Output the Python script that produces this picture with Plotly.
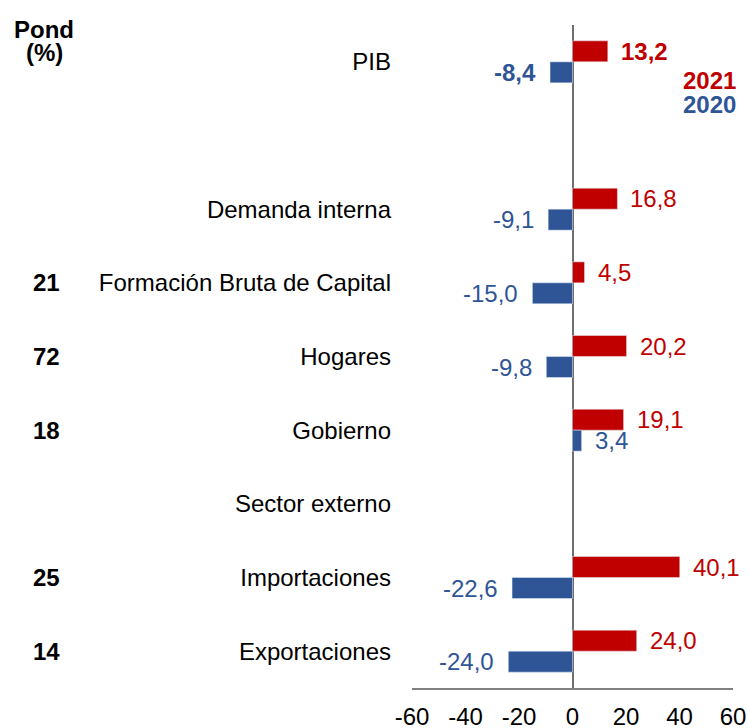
import plotly.graph_objects as go

categories = ["PIB", "", "Demanda interna", "Formación Bruta de Capital", "Hogares",
              "Gobierno", "Sector externo", "Importaciones", "Exportaciones"]
pond = [None, None, None, 21, 72, 18, None, 25, 14]
values_2021 = [13.2, None, 16.8, 4.5, 20.2, 19.1, None, 40.1, 24.0]
values_2020 = [-8.4, None, -9.1, -15.0, -9.8, 3.4, None, -22.6, -24.0]
bold_rows = [True, False, False, False, False, False, False, False, False]
x_ticks = [-60, -40, -20, 0, 20, 40, 60]

RED = "#C00000"
BLUE = "#2F5597"
FONT = "Arial, 'Liberation Sans', sans-serif"
FS = 24

ypos = list(range(len(categories)))

fig = go.Figure()
fig.add_trace(go.Bar(y=ypos, x=values_2021, orientation="h", name="2021",
                     marker=dict(color=RED), hoverinfo="skip"))
fig.add_trace(go.Bar(y=ypos, x=values_2020, orientation="h", name="2020",
                     marker=dict(color=BLUE), hoverinfo="skip"))

BAR_GAP = 0.43
half = (1 - BAR_GAP) / 4.0

def fmt(v):
    return f"{v:.1f}".replace(".", ",")

annotations = []
for i, (v21, v20) in enumerate(zip(values_2021, values_2020)):
    for v, col, off in ((v21, RED, -half), (v20, BLUE, half)):
        if v is None:
            continue
        txt = fmt(v)
        if bold_rows[i]:
            txt = f"<b>{txt}</b>"
        annotations.append(dict(
            x=v, y=i + off, xref="x", yref="y", text=txt, showarrow=False,
            xanchor="left" if v >= 0 else "right",
            xshift=11 if v >= 0 else -12,
            yanchor="middle",
            font=dict(family=FONT, size=FS, color=col)))

for i, p in enumerate(pond):
    if p is None:
        continue
    annotations.append(dict(
        x=0, y=i, xref="paper", yref="y", text=f"<b>{p}</b>", showarrow=False,
        xanchor="center", xshift=-366, yanchor="middle",
        font=dict(family=FONT, size=FS, color="#000000")))

annotations += [
    dict(x=0, y=1, xref="paper", yref="paper", text="<b>Pond</b>", showarrow=False,
         xanchor="center", xshift=-368, yanchor="middle", yshift=-4,
         font=dict(family=FONT, size=FS, color="#000000")),
    dict(x=0, y=1, xref="paper", yref="paper", text="<b>(%)</b>", showarrow=False,
         xanchor="center", xshift=-368, yanchor="middle", yshift=-27,
         font=dict(family=FONT, size=FS, color="#000000")),
    dict(x=1, y=1, xref="paper", yref="paper", text="<b>2021</b>", showarrow=False,
         xanchor="right", xshift=5, yanchor="middle", yshift=-55,
         font=dict(family=FONT, size=FS, color=RED)),
    dict(x=1, y=1, xref="paper", yref="paper", text="<b>2020</b>", showarrow=False,
         xanchor="right", xshift=5, yanchor="middle", yshift=-79,
         font=dict(family=FONT, size=FS, color=BLUE)),
]

fig.update_layout(
    width=748, height=728,
    margin=dict(l=412, r=15, t=25, b=40, autoexpand=False),
    paper_bgcolor="white", plot_bgcolor="white",
    barmode="group", bargap=BAR_GAP, bargroupgap=0,
    showlegend=False,
    font=dict(family=FONT, size=FS, color="#000000"),
    annotations=annotations,
)
fig.update_xaxes(
    range=[-60, 60], tickvals=x_ticks, ticktext=[str(t) for t in x_ticks],
    showgrid=False, zeroline=True, zerolinecolor="#6f6f6f", zerolinewidth=1.5,
    showline=True, linecolor="#7f7f7f", linewidth=1.5, ticks="",
    ticklabelstandoff=6, automargin=False,
    tickfont=dict(family=FONT, size=FS, color="#000000"),
)
fig.update_yaxes(
    range=[len(categories) - 0.5, -0.5], tickvals=ypos, ticktext=categories,
    showgrid=False, zeroline=False, showline=False, ticks="",
    ticklabelstandoff=20, automargin=False,
    tickfont=dict(family=FONT, size=FS, color="#000000"),
)

fig.write_html("out.html",
               config={"displayModeBar": False},
               post_script="document.body.style.margin='0';document.body.style.padding='0';document.body.style.overflow='hidden';")
